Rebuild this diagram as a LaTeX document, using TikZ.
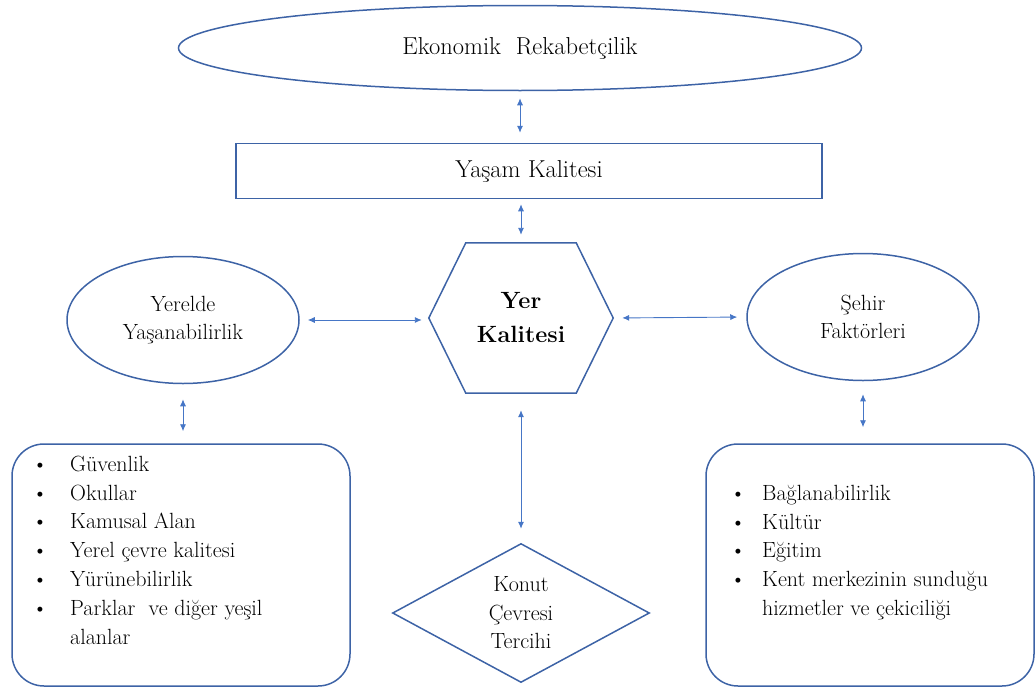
\documentclass[tikz,border=0pt]{standalone}
\usepackage{fontspec}
\usetikzlibrary{shapes.geometric,arrows.meta}
\definecolor{mline}{HTML}{3D63A6}
\definecolor{marrow}{HTML}{4676C6}

\tikzset{
    shapeline/.style={draw=mline, line width=1.5pt},
    link/.style={marrow, line width=0.9pt, {Latex[length=7pt,width=6pt]}-{Latex[length=7pt,width=6pt]}},
    bigtext/.style={font=\fontsize{24.5}{30}\selectfont},
    bodytext/.style={font=\fontsize{22}{28.5}\selectfont, align=center},
}

\begin{document}
\begin{tikzpicture}[x=1pt, y=-1pt]
        \useasboundingbox (0,0) rectangle (1036,688);

        \node[shapeline, ellipse, minimum width=683pt, minimum height=85pt, bigtext] (eko) at (520,48) {Ekonomik\ \ Rekabetçilik};
        \node[shapeline, rectangle, minimum width=586pt, minimum height=55pt, bigtext] (yasam) at (529,171) {Yaşam Kalitesi};

        % hexagon drawn round the text node
        \node[minimum width=184pt, minimum height=150pt, inner sep=0pt, align=center, font=\fontsize{23.5}{34}\bfseries] (yer) at (521,318) {Yer\\Kalitesi};
        \draw[shapeline] (yer.west) -- ([xshift=37pt]yer.north west) -- ([xshift=-37pt]yer.north east)
            -- (yer.east) -- ([xshift=-37pt]yer.south east) -- ([xshift=37pt]yer.south west) -- cycle;

        \node[shapeline, ellipse, minimum width=232pt, minimum height=127pt, inner sep=0pt, bodytext] (yerel) at (183,320) {Yerelde\\Yaşanabilirlik};
        \node[shapeline, ellipse, minimum width=232pt, minimum height=127pt, inner sep=0pt, bodytext] (sehir) at (863,317) {Şehir\\Faktörleri};

        \node[shapeline, diamond, minimum width=257pt, minimum height=139pt, inner sep=0pt, bodytext] (konut) at (521,613) {Konut\\Çevresi\\Tercihi};

        \node[shapeline, rounded corners=32pt, minimum width=338pt, minimum height=242pt] (lbox) at (181,565) {};
        \node[shapeline, rounded corners=32pt, minimum width=328pt, minimum height=242pt] (rbox) at (870,565) {};

        \node[anchor=north west, inner sep=0pt, font=\fontsize{22}{28.8}\selectfont] (llist) at (32,451) {%
            \begin{tabular}{@{}p{38pt}@{}l@{}}
            \textbullet & Güvenlik\\
            \textbullet & Okullar\\
            \textbullet & Kamusal Alan\\
            \textbullet & Yerel çevre kalitesi\\
            \textbullet & Yürünebilirlik\\
            \textbullet & Parklar\ \ ve diğer yeşil\\
                        & alanlar
            \end{tabular}};
        \node[anchor=north west, inner sep=0pt, font=\fontsize{22}{28.8}\selectfont] (rlist) at (730,480) {%
            \begin{tabular}{@{}p{32pt}@{}l@{}}
            \textbullet & Bağlanabilirlik\\
            \textbullet & Kültür\\
            \textbullet & Eğitim\\
            \textbullet & Kent merkezinin sunduğu\\
                        & hizmetler ve çekiciliği
            \end{tabular}};

        \draw[link, shorten <=7pt, shorten >=10pt] (eko) -- (eko.south |- yasam.north);
        \draw[link, shorten <=5pt, shorten >=8pt] (yasam.south -| yer.north) -- (yer.north);
        \draw[link, shorten <=8pt, shorten >=7pt] (yerel.east) -- (yerel.east -| yer.west);
        \draw[link, shorten <=9pt, shorten >=9pt] (yer.east) -- (sehir.west);
        \draw[link, shorten <=15pt, shorten >=12pt] (yerel.south) -- (yerel.south |- lbox.north);
        \draw[link, shorten <=13pt, shorten >=16pt] (sehir.south) -- (sehir.south |- rbox.north);
        \draw[link, shorten <=17pt, shorten >=14pt] (yer.south) -- (konut.north);
    \end{tikzpicture}
\end{document}
